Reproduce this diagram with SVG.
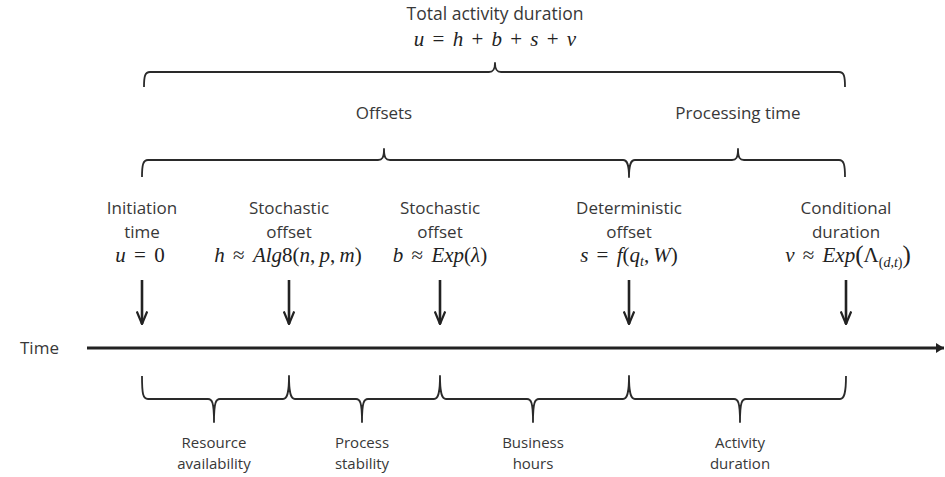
<svg xmlns="http://www.w3.org/2000/svg" width="945" height="477" viewBox="0 0 945 477">
  <style>
    .lbl { font-family: "Open Sans", "Noto Sans", "DejaVu Sans", sans-serif; font-size: 17px; fill: #383838; text-anchor: middle; }
    .sm { font-size: 15px; }
    .math { font-family: "Liberation Serif", "DejaVu Serif", serif; font-size: 21px; fill: #222222; text-anchor: middle; word-spacing: 3px; }
    .it { font-style: italic; }
    .sub { font-size: 14px; }
    .brace { fill: none; stroke: #2a2a2a; stroke-width: 1.8; stroke-linejoin: round; }
    .arrow { stroke: #222222; stroke-width: 2.6; fill: none; }
    .axis { stroke: #222222; stroke-width: 3; fill: none; }
  </style>
  <defs>
    <!-- open barbed head, drawn pointing along +x -->
    <marker id="drop" viewBox="0 0 14 12" refX="13" refY="6" markerWidth="14" markerHeight="12" markerUnits="userSpaceOnUse" orient="auto">
      <path d="M0.5,0.8 L13,6 L0.5,11.2" fill="none" stroke="#222222" stroke-width="2.2" stroke-linejoin="miter"/>
    </marker>
    <marker id="tip" viewBox="0 0 8 10" refX="8" refY="5" markerWidth="8" markerHeight="10" markerUnits="userSpaceOnUse" orient="auto">
      <path d="M0,0 L8,5 L0,10 Z" fill="#222222"/>
    </marker>
  </defs>

  <!-- headline -->
  <g id="total">
    <text class="lbl" x="495" y="20" style="font-size:17.5px">Total activity duration</text>
    <text class="math" x="495" y="46"><tspan class="it">u</tspan> = <tspan class="it">h</tspan> + <tspan class="it">b</tspan> + <tspan class="it">s</tspan> + <tspan class="it">v</tspan></text>
  </g>

  <g id="group-labels">
    <text class="lbl" x="384" y="119">Offsets</text>
    <text class="lbl" x="738" y="119">Processing time</text>
  </g>

  <!-- braces -->
  <g id="braces">
    <path class="brace" d="M144,87 C144,76 145,72 150,72 L489,72 C493,72 495,70 495,63 C495,70 497,72 501,72 L839,72 C844,72 845,76 845,87"/>
    <path class="brace" d="M142,177 C142,165 143,160 148,160 L378,160 C382,160 384,158 384,149 C384,158 386,160 390,160 L623,160 C627,160 629,164 629,177 C629,164 631,160 635,160 L732,160 C736,160 738,158 738,149 C738,158 740,160 744,160 L839,160 C844,160 845,165 845,177"/>
    <path class="brace" d="M142,376 C142,394 143,399 148,399 L208,399 C212,399 214,402 214,422 C214,402 216,399 220,399 L283,399 C287,399 289,394 289,376 C289,394 291,399 295,399 L356,399 C360,399 362,402 362,422 C362,402 364,399 368,399 L434,399 C438,399 440,394 440,376 C440,394 442,399 446,399 L527,399 C531,399 533,402 533,422 C533,402 535,399 539,399 L623,399 C627,399 629,394 629,376 C629,394 631,399 635,399 L734,399 C738,399 740,402 740,422 C740,402 742,399 746,399 L840,399 C844,399 846,394 846,376"/>
  </g>

  <!-- event nodes -->
  <g id="initiation">
    <text class="lbl" x="142" y="214">Initiation</text>
    <text class="lbl" x="142" y="238">time</text>
    <text class="math" x="140" y="262"><tspan class="it">u</tspan> = 0</text>
  </g>
  <g id="stochastic-h">
    <text class="lbl" x="289" y="214">Stochastic</text>
    <text class="lbl" x="289" y="238">offset</text>
    <text class="math" x="288" y="262"><tspan class="it">h</tspan> ≈ <tspan class="it">Alg</tspan>8(<tspan class="it">n</tspan>,&#8201;<tspan class="it">p</tspan>,&#8201;<tspan class="it">m</tspan>)</text>
  </g>
  <g id="stochastic-b">
    <text class="lbl" x="440" y="214">Stochastic</text>
    <text class="lbl" x="440" y="238">offset</text>
    <text class="math" x="440" y="262"><tspan class="it">b</tspan> ≈ <tspan class="it">Exp</tspan>(<tspan class="it">λ</tspan>)</text>
  </g>
  <g id="deterministic-s">
    <text class="lbl" x="629" y="214">Deterministic</text>
    <text class="lbl" x="629" y="238">offset</text>
    <text class="math" x="629" y="262"><tspan class="it">s</tspan> = <tspan class="it">f</tspan>(<tspan class="it">q</tspan><tspan class="it sub" dy="4">t</tspan><tspan dy="-4">,&#8201;</tspan><tspan class="it">W</tspan>)</text>
  </g>
  <g id="conditional-v">
    <text class="lbl" x="846" y="214">Conditional</text>
    <text class="lbl" x="846" y="238">duration</text>
    <text class="math" x="848" y="262"><tspan class="it">v</tspan> ≈ <tspan class="it">Exp</tspan><tspan font-size="25" dy="1">(</tspan><tspan dy="-1">Λ</tspan><tspan class="sub" dy="5">(</tspan><tspan class="it sub">d</tspan><tspan class="sub">,</tspan><tspan class="it sub">t</tspan><tspan class="sub">)</tspan><tspan font-size="25" dy="-4">)</tspan></text>
  </g>

  <g id="time-label">
    <text class="lbl" x="20" y="354" style="text-anchor:start">Time</text>
  </g>

  <!-- bottom segment labels -->
  <g id="resource">
    <text class="lbl sm" x="214" y="448">Resource</text>
    <text class="lbl sm" x="214" y="469">availability</text>
  </g>
  <g id="process">
    <text class="lbl sm" x="362" y="448">Process</text>
    <text class="lbl sm" x="362" y="469">stability</text>
  </g>
  <g id="business">
    <text class="lbl sm" x="533" y="448">Business</text>
    <text class="lbl sm" x="533" y="469">hours</text>
  </g>
  <g id="activity">
    <text class="lbl sm" x="740" y="448">Activity</text>
    <text class="lbl sm" x="740" y="469">duration</text>
  </g>

  <!-- connectors -->
  <g id="connectors">
    <line class="axis" x1="87" y1="348" x2="944" y2="348" marker-end="url(#tip)"/>
    <line class="arrow" x1="142" y1="280" x2="142" y2="324" marker-end="url(#drop)"/>
    <line class="arrow" x1="289" y1="280" x2="289" y2="324" marker-end="url(#drop)"/>
    <line class="arrow" x1="440" y1="280" x2="440" y2="324" marker-end="url(#drop)"/>
    <line class="arrow" x1="629" y1="280" x2="629" y2="324" marker-end="url(#drop)"/>
    <line class="arrow" x1="846" y1="280" x2="846" y2="324" marker-end="url(#drop)"/>
  </g>
</svg>
